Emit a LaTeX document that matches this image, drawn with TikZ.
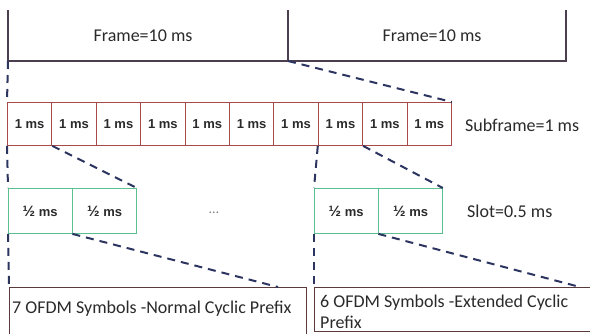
\documentclass[tikz,border=0pt]{standalone}
\usepackage{fontspec}
\setmainfont{Carlito}
\newfontfamily\cellfont{Liberation Sans}
\definecolor{framecol}{HTML}{4B3F4F}
\definecolor{subcol}{HTML}{A84A4A}
\definecolor{slotcol}{HTML}{5CBF8F}
\definecolor{dashcol}{HTML}{2C3560}
\definecolor{boxcol}{HTML}{5A3A3A}
\definecolor{txtcol}{HTML}{2A2A2A}
\tikzset{
  subcell/.style={draw=subcol, line width=0.9pt, minimum width=44.4pt, minimum height=43pt, inner sep=0pt, anchor=north west, text=txtcol, font=\cellfont\bfseries\fontsize{13}{15}\selectfont},
  slotcell/.style={draw=slotcol, line width=0.9pt, minimum width=63.5pt, minimum height=45pt, inner sep=0pt, anchor=north west, text=txtcol, font=\cellfont\bfseries\fontsize{13}{15}\selectfont},
  lbl/.style={text=txtcol, font=\fontsize{18}{21}\selectfont, inner sep=0pt},
  framel/.style={draw=framecol, line width=1.2pt},
  dashl/.style={draw=dashcol, line width=2pt, dash pattern=on 8pt off 6pt},
  bigbox/.style={draw=boxcol, line width=1.1pt, anchor=north west, inner sep=0pt},
}
\begin{document}
\begin{tikzpicture}[x=1pt,y=-1pt]
\useasboundingbox (0,0) rectangle (590,333);
\begin{scope}
\clip (0,0) rectangle (590,333);
% frame row
\coordinate (fTL) at (8,10);
\coordinate (fBL) at (8,61);
\coordinate (fTM) at (288,10);
\coordinate (fBM) at (288,61);
\coordinate (fTR) at (566,10);
\coordinate (fBR) at (566,61);
\draw[framel] (fTL) -- (fBL) -- (fBR) -- (fTR);
\draw[framel] (fTM) -- (fBM);
\node[lbl] (fr1) at (143,36) {Frame=10 ms};
\node[lbl] (fr2) at (432,36) {Frame=10 ms};
% subframes
\foreach \i in {1,...,10}{
  \node[subcell] (sf\i) at ({7+(\i-1)*44.4},102) {1 ms};
}
\node[lbl, anchor=west] (sflbl) at (465,125) {Subframe=1 ms};
\draw[dashl] (fBL) -- (sf1.north west);
\draw[dashl] (fBM) -- (sf10.north east);
% slots
\node[slotcell] (sa1) at (8,188) {{\fontsize{15}{15}\selectfont ½} ms};
\node[slotcell] (sa2) at (sa1.north east) {{\fontsize{15}{15}\selectfont ½} ms};
\node[slotcell] (sb1) at (314,188) {{\fontsize{15}{15}\selectfont ½} ms};
\node[slotcell] (sb2) at (sb1.north east) {{\fontsize{15}{15}\selectfont ½} ms};
\node[text=gray, font=\fontsize{14}{16}\selectfont] (dots) at (214,213) {\dots};
\node[lbl, anchor=west] (sllbl) at (467,211) {Slot=0.5 ms};
\draw[dashl] (sf1.south west) -- (sa1.north west);
\draw[dashl] (sf1.south east) -- (sa2.north east);
\draw[dashl] (sf8.south west) -- (sb1.north west);
\draw[dashl] (sf8.south east) -- (sb2.north east);
% bottom boxes
\node[bigbox, minimum width=297pt, minimum height=60pt] (bL) at (9,287) {};
\node[bigbox, minimum width=290pt, minimum height=44pt] (bR) at (314,287) {};
\node[lbl, anchor=base west] (tL) at (12,313) {7 OFDM Symbols -Normal Cyclic Prefix};
\node[lbl, anchor=base west] (tR1) at (320,307) {6 OFDM Symbols -Extended Cyclic};
\node[lbl, anchor=base west] (tR2) at (320,328) {Prefix};
\coordinate (eL) at (278,287);
\coordinate (eR) at (580,287);
\draw[dashl] (sa1.south west) -- (bL.north west);
\draw[dashl] (sa2.south west) -- (eL);
\draw[dashl] (sb1.south west) -- (bR.north west);
\draw[dashl] (sb2.south west) -- (eR);
\end{scope}
\end{tikzpicture}
\end{document}
